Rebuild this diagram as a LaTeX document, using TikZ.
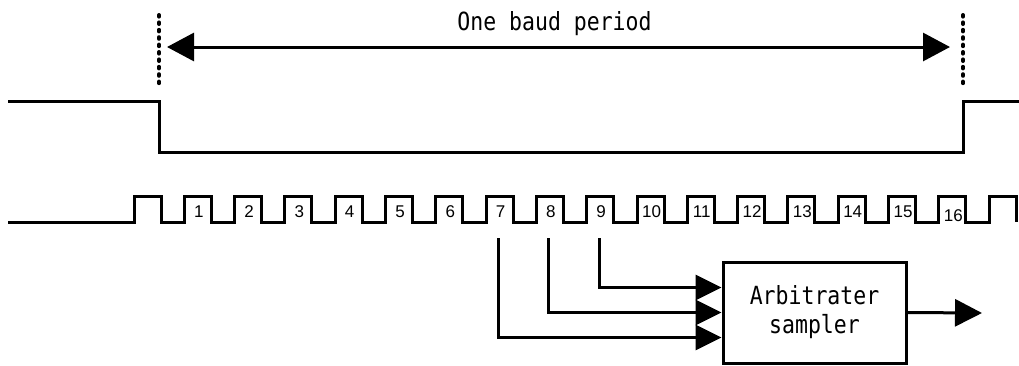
\documentclass[tikz,border=0pt]{standalone}
\usepackage{fontspec}
\setmainfont{Liberation Sans}
\newfontfamily\labfont[FakeStretch=0.86]{DejaVu Sans Mono}
\usetikzlibrary{arrows.meta}
\tikzset{
  sig/.style={line width=3pt, line join=miter},
  dotline/.style={line width=4pt, line cap=round, dash pattern=on 1.6pt off 5.8pt},
  tip/.style={-{Triangle[length=27pt,width=27pt]}},
  num/.style={inner sep=0pt, font=\fontsize{17}{17}\selectfont},
  lab/.style={font=\labfont\fontsize{25}{29}\selectfont},
  blk/.style={draw, line width=3pt, minimum width=183pt, minimum height=101pt, inner sep=0pt, align=center}
}
\begin{document}
\begin{tikzpicture}[x=1pt,y=-1pt]
\useasboundingbox (0,0) rectangle (1019,365);
% baud period markers
\coordinate (dlt) at (159,15);
\coordinate (dlb) at (159,87);
\coordinate (drt) at (963,15);
\coordinate (drb) at (963,87);
\draw[dotline] (dlt) -- (dlb);
\draw[dotline] (drt) -- (drb);
\coordinate (al) at (167,47);
\coordinate (ar) at (950,47);
\draw[sig, {Triangle[length=27pt,width=28pt]}-{Triangle[length=27pt,width=28pt]}] (al) -- (ar);
\node[lab, anchor=base, inner sep=0pt] (title) at (554.5,30) {One baud period};
% data signal
\draw[sig] (8,101) -- (159,101) -- (159,152) -- (963,152) -- (963,101) -- (1019,101);
% clock
\draw[sig] (8,222) \foreach \k in {0,...,17} { -- ({134+50.3*\k},222) -- ({134+50.3*\k},196) -- ({161+50.3*\k},196) -- ({161+50.3*\k},222) };
\foreach \k in {1,...,15} \node[num] (n\k) at ({148.5+50.3*\k},212) {\k};
\node[num] (n16) at ({148.5+50.3*16},216) {16};
% sampler
\node[blk, lab] (arb) at (814.5,312.5) {Arbitrater\\sampler};
\coordinate (s7) at (498,238);
\coordinate (s8) at (548,238);
\coordinate (s9) at (599,238);
\draw[sig, -{Triangle[length=26pt,width=25pt]}] (s9) |- ([yshift=25pt]arb.west);
\draw[sig, -{Triangle[length=26pt,width=25pt]}] (s8) |- (arb.west);
\draw[sig, -{Triangle[length=26pt,width=25pt]}] (s7) |- ([yshift=-25pt]arb.west);
\coordinate (out) at (982,313);
\draw[sig, tip] (arb.east) -- (out);
\end{tikzpicture}
\end{document}
